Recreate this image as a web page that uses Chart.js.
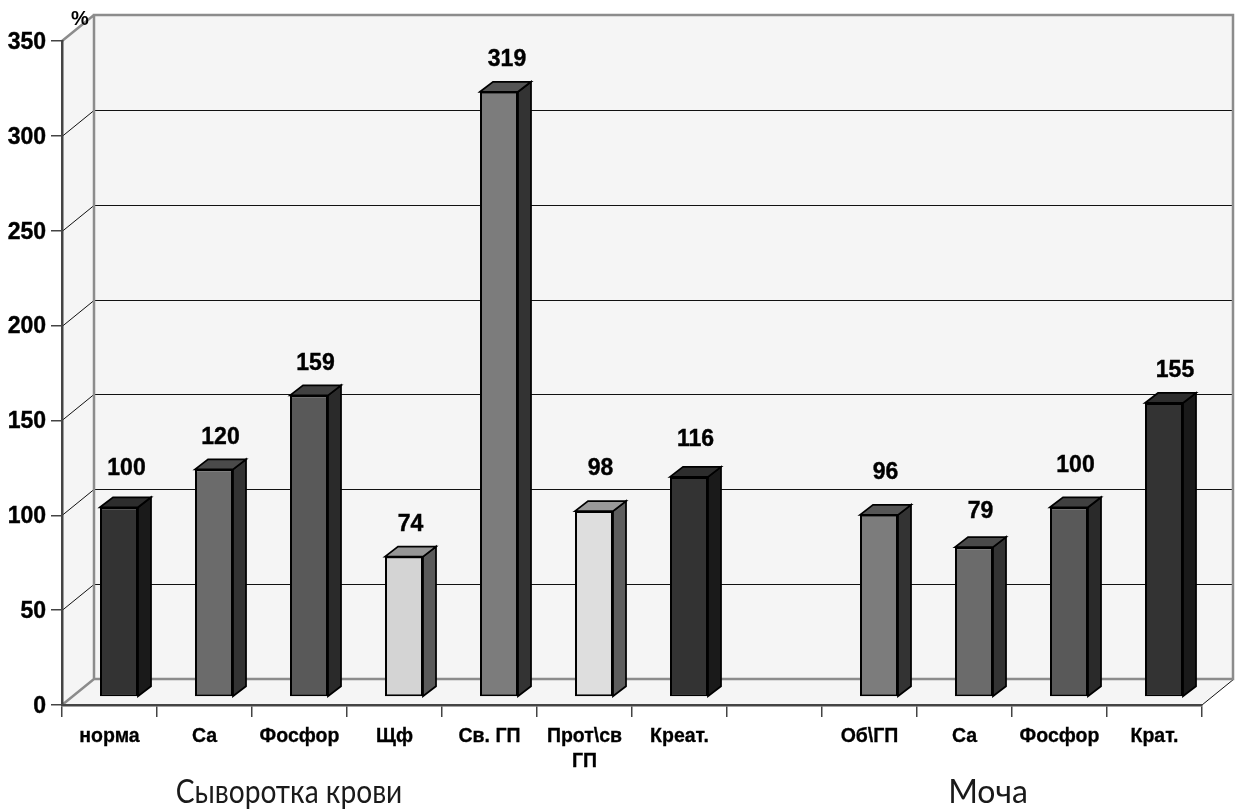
<!DOCTYPE html>
<html>
<head>
<meta charset="utf-8">
<style>
  html, body { margin: 0; padding: 0; background: #fff; }
  canvas { display: block; }
</style>
<script src="https://cdn.jsdelivr.net/npm/chart.js@4"></script>
</head>
<body>
<canvas id="chart" width="1235" height="812"></canvas>
<script>
const categories = ['норма', 'Са', 'Фосфор', 'Щф', 'Св. ГП', ['Прот\\св', 'ГП'], 'Креат.', '', 'Об\\ГП', 'Са', 'Фосфор', 'Крат.'];
const values = [100, 120, 159, 74, 319, 98, 116, null, 96, 79, 100, 155];
const yTicks = [0, 50, 100, 150, 200, 250, 300, 350];

// bar shades: front, side, top
const frontColors = ['#333333', '#6b6b6b', '#595959', '#d4d4d4', '#7c7c7c', '#dedede', '#333333', null, '#7c7c7c', '#6b6b6b', '#595959', '#333333'];
const sideColors = ['#1a1a1a', '#333333', '#2a2a2a', '#5a5a5a', '#333333', '#5e5e5e', '#1a1a1a', null, '#333333', '#333333', '#2a2a2a', '#1a1a1a'];
const topColors = ['#2d2d2d', '#4a4a4a', '#404040', '#969696', '#555555', '#9a9a9a', '#2d2d2d', null, '#555555', '#4a4a4a', '#404040', '#2d2d2d'];

// value labels were hand placed in the original, so they don't sit at a fixed distance
const labelLift = [29, 22, 22, 22, 22, 32, 27, 0, 32, 25, 32, 22];
const labelShift = [1, 0, 0, 0, 1.5, 0, 0, 0, 0, 0, 0, 4.5];

const WALL_DX = 32, WALL_DY = -26;   // depth of the box
const BAR_DX = 9.5, BAR_DY = -8;     // where bars stand on the floor
const SIDE_DX = 13, SIDE_DY = -10;   // depth of a bar

const box3d = {
    id: 'box3d',
    beforeDraw(chart) {
        const { ctx, scales: { x, y } } = chart;
        const l = x.left, r = x.right, b = y.bottom, t = y.top;

        ctx.save();
        ctx.fillStyle = '#f5f5f5';
        ctx.beginPath();
        ctx.moveTo(l, b);
        ctx.lineTo(l, t);
        ctx.lineTo(l + WALL_DX, t + WALL_DY);
        ctx.lineTo(r + WALL_DX, t + WALL_DY);
        ctx.lineTo(r + WALL_DX, b + WALL_DY);
        ctx.lineTo(r, b);
        ctx.closePath();
        ctx.fill();

        // grid on back wall + left wall
        ctx.strokeStyle = '#111';
        ctx.lineWidth = 1;
        yTicks.slice(1, -1).forEach(v => {
            const p = Math.round(y.getPixelForValue(v)) + 0.5;
            ctx.beginPath();
            ctx.moveTo(l, p);
            ctx.lineTo(l + WALL_DX, p + WALL_DY);
            ctx.lineTo(r + WALL_DX, p + WALL_DY);
            ctx.stroke();
        });
        ctx.beginPath();
        ctx.moveTo(r, b);
        ctx.lineTo(r + WALL_DX, b + WALL_DY);
        ctx.stroke();

        // grey frame
        ctx.strokeStyle = '#8c8c8c';
        ctx.lineWidth = 2.5;
        ctx.beginPath();
        ctx.moveTo(l, b);
        ctx.lineTo(l + WALL_DX, b + WALL_DY);
        ctx.lineTo(r + WALL_DX - 1, b + WALL_DY);
        ctx.lineTo(r + WALL_DX - 1, t + WALL_DY);
        ctx.lineTo(l + WALL_DX, t + WALL_DY);
        ctx.lineTo(l + WALL_DX, b + WALL_DY);
        ctx.moveTo(l, t);
        ctx.lineTo(l + WALL_DX, t + WALL_DY);
        ctx.stroke();
        ctx.restore();
    },
    beforeDatasetsDraw(chart) {
        chart.ctx.save();
        chart.ctx.translate(BAR_DX, BAR_DY);
    },
    afterDatasetsDraw(chart) {
        const ctx = chart.ctx;
        ctx.restore();

        const bars = chart.getDatasetMeta(0).data;
        ctx.save();
        ctx.lineJoin = 'miter';
        ctx.strokeStyle = '#000';
        bars.forEach((bar, i) => {
            if (values[i] === null) return;
            const left = bar.x - bar.width / 2 + BAR_DX;
            const right = bar.x + bar.width / 2 + BAR_DX;
            const top = bar.y + BAR_DY;
            const bottom = bar.base + BAR_DY;
            ctx.lineWidth = 1.75;

            // side face
            ctx.fillStyle = sideColors[i];
            ctx.beginPath();
            ctx.moveTo(right, top);
            ctx.lineTo(right + SIDE_DX, top + SIDE_DY);
            ctx.lineTo(right + SIDE_DX, bottom + SIDE_DY);
            ctx.lineTo(right, bottom);
            ctx.closePath();
            ctx.fill();
            ctx.stroke();

            // top face
            ctx.fillStyle = topColors[i];
            ctx.beginPath();
            ctx.moveTo(left, top);
            ctx.lineTo(left + SIDE_DX, top + SIDE_DY);
            ctx.lineTo(right + SIDE_DX, top + SIDE_DY);
            ctx.lineTo(right, top);
            ctx.closePath();
            ctx.fill();
            ctx.stroke();

            // value label
            const labelX = bar.x + BAR_DX + SIDE_DX / 2 + labelShift[i];
            const labelY = top + SIDE_DY - labelLift[i];
            ctx.fillStyle = '#000';
            ctx.font = 'bold 23px "Liberation Sans", Arial, sans-serif';
            ctx.textAlign = 'center';
            ctx.textBaseline = 'middle';
            ctx.lineWidth = 0.4;
            ctx.fillText(String(values[i]), labelX, labelY);
            ctx.strokeText(String(values[i]), labelX, labelY);
        });
        ctx.restore();
    },
    afterDraw(chart) {
        const ctx = chart.ctx;
        ctx.save();
        ctx.fillStyle = '#000';
        ctx.textAlign = 'center';
        ctx.textBaseline = 'alphabetic';
        ctx.font = 'bold 20px "Liberation Sans", Arial, sans-serif';
        ctx.fillText('%', 80, 25);

        ctx.fillStyle = '#1a1a1a';
        ctx.font = '32px Lato, sans-serif';
        ctx.fillText('Моча', 988, 803);
        // Lato runs wider than the original face, squeeze the long caption
        ctx.translate(289, 803);
        ctx.scale(0.88, 1);
        ctx.fillText('Сыворотка крови', 0, 0);
        ctx.restore();
    }
};

new Chart(document.getElementById('chart'), {
    type: 'bar',
    data: {
        labels: categories,
        datasets: [{
            data: values,
            backgroundColor: frontColors,
            borderColor: '#000',
            borderWidth: 2,
            borderSkipped: false,
            barPercentage: 0.4,
            categoryPercentage: 1
        }]
    },
    options: {
        responsive: false,
        animation: false,
        layout: { padding: { top: 41, right: 33, left: 0, bottom: 0 } },
        plugins: { legend: { display: false }, tooltip: { enabled: false } },
        scales: {
            x: {
                offset: true,
                afterFit: s => { s.height = 107; },
                grid: { drawOnChartArea: false, color: '#444', tickLength: 12, lineWidth: 1.5, offset: true },
                border: { color: '#444', width: 2.5 },
                ticks: {
                    color: '#000',
                    maxRotation: 0,
                    autoSkip: false,
                    padding: 7,
                    textStrokeColor: '#000',
                    textStrokeWidth: 0.3,
                    font: { family: '"Liberation Sans", Arial, sans-serif', size: 19.5, weight: 'bold', lineHeight: 1.3 }
                }
            },
            y: {
                min: 0,
                max: 350,
                afterFit: s => { s.width = 62; },
                afterBuildTicks: s => { s.ticks = yTicks.map(v => ({ value: v })); },
                grid: { drawOnChartArea: false, color: '#444', tickLength: 11, lineWidth: 1.5 },
                border: { color: '#444', width: 2.5 },
                ticks: {
                    color: '#000',
                    padding: 5,
                    textStrokeColor: '#000',
                    textStrokeWidth: 0.4,
                    // blank first line + tiny line height nudges the number down a bit
                    callback: v => ['', String(v)],
                    font: { family: '"Liberation Sans", Arial, sans-serif', size: 23, weight: 'bold', lineHeight: 0.13 }
                }
            }
        }
    },
    plugins: [box3d]
});
</script>
</body>
</html>
